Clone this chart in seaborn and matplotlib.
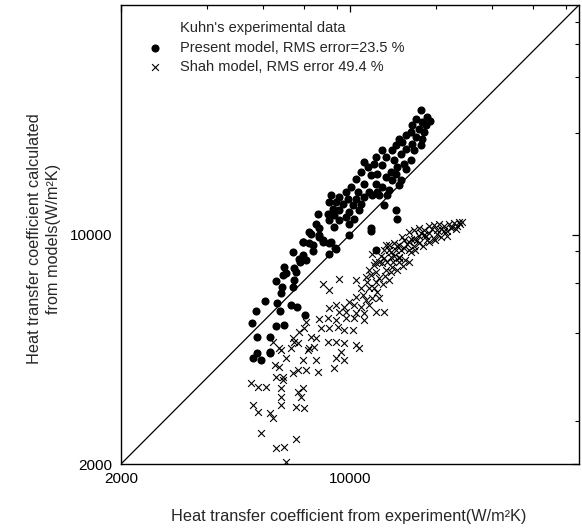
import matplotlib
matplotlib.use("Agg")
import matplotlib.pyplot as plt
import matplotlib.ticker as mticker
import seaborn as sns
import pandas as pd

# Present model: experimental vs calculated heat transfer coefficient (W/m2K)
present_exp = [16440, 17220, 17550, 16630, 15880, 15500, 16250, 17030, 16830, 15330,
               14800, 15880, 16630, 16440, 15500, 14450, 14120, 13800, 14800, 15690,
               13470, 14290, 12560, 12870, 12000, 13640, 15330, 14630, 13960, 14800,
               13320, 12560, 11850, 11310, 11050, 12130, 12870, 13470, 14290, 13800,
               11580, 10800, 10430, 11050, 12000, 12560, 13170, 14120, 10070, 10550,
               11450, 12130, 13010, 9720, 9280, 8750, 9830, 10430, 11050, 11710,
               12280, 9060, 9490, 10180, 10670, 10800, 8650, 8850, 9280, 9950,
               8550, 8960, 9720, 10300, 8650, 9280, 9950, 7970, 8960, 7880,
               8060, 12710, 13800, 13960, 11580, 7520, 8060, 8750, 7170, 7690,
               8250, 6690, 7170, 7350, 7010, 9060, 6310, 6770, 6390, 5030,
               5360, 5040, 5210, 5150, 5510, 5680, 5700, 5950, 6310, 6110,
               5970, 6165, 6210, 5925, 6235, 6850, 7045, 7210, 7520, 7610,
               8060, 8290, 8650, 7730, 8650, 9020, 9900, 11600, 12000, 6610,
               6900, 7310, 6690, 6770, 5200, 5700]
present_calc = [23880, 22790, 22110, 22000, 22540, 21500, 21010, 21500, 20520, 20520,
                20050, 19810, 19590, 18690, 18910, 19130, 19590, 18690, 18260, 18050,
                18050, 17630, 18050, 17220, 17220, 16830, 16830, 16440, 16060, 15880,
                15500, 16250, 16440, 16060, 16630, 15330, 14970, 14630, 14630, 15330,
                15150, 15500, 14800, 14290, 14290, 13960, 13640, 14120, 13960, 13470,
                13470, 13470, 13170, 13470, 13010, 13170, 12870, 12870, 13010, 13170,
                13170, 12560, 12420, 12280, 11850, 12420, 12560, 12000, 11850, 11710,
                11580, 11450, 11310, 11180, 11050, 11050, 10800, 11580, 10550, 10800,
                10430, 12280, 11850, 11130, 10430, 10180, 9950, 9490, 9490, 9280,
                9490, 8850, 8650, 8350, 8450, 9060, 7970, 7880, 7610, 5360,
                4150, 4200, 4880, 5850, 6270, 4870, 4390, 5270, 5300, 5850,
                6180, 6625, 6925, 7210, 7520, 7690, 8250, 9490, 9390, 10070,
                9830, 9610, 9390, 8910, 8750, 9080, 9950, 10250, 8960, 6090,
                6020, 5680, 6900, 7260, 4360, 4360]

# Shah correlation: experimental vs calculated heat transfer coefficient (W/m2K)
shah_exp = [8290, 8650, 9280, 11710, 12870, 13640, 14450, 13800, 13320, 14120,
            12560, 11450, 12000, 12870, 13470, 10430, 11180, 12000, 10800, 11450,
            12130, 10920, 10430, 11180, 11710, 12280, 9950, 10300, 10800, 11450,
            9610, 9060, 8650, 9280, 9720, 10430, 11050, 12710, 12000, 8550,
            8060, 9060, 9720, 10300, 11050, 8160, 8650, 9170, 9610, 10180,
            7350, 7260, 7010, 7610, 7880, 8550, 9060, 9610, 10430, 10670,
            6690, 6930, 6610, 7520, 7785, 6090, 5815, 9385, 9060, 9610,
            6390, 7170, 7880, 6930, 7350, 7970, 5885, 6090, 5950, 6235,
            6690, 8960, 6165, 6770, 7430, 6235, 4995, 5235, 5550, 6165,
            6930, 7170, 7090, 6165, 6165, 6850, 7260, 5055, 5235, 5680,
            5815, 5360, 5950, 6310, 6850, 6390,
            15150, 15690, 16250, 16830, 17430, 18050, 18690, 19360, 20050, 20760,
            21500, 21960, 14630, 15150, 15690, 16250, 16830, 17430, 18470, 19360,
            20330, 21200, 14120, 14630, 15150, 15690, 16250, 17190, 18050, 13170,
            13640, 14120, 12710, 12280, 11850,
            12710, 13170, 13350, 13930, 14320, 14940, 15360, 16020, 16470, 17060,
            17800, 18470, 18950, 19770, 20470, 21050, 21650, 12450, 12990, 13560,
            14120, 14730, 15360, 15800, 16750, 17430, 18170, 18950, 19770, 11930,
            11600, 12280, 12800, 13350, 13930, 14520, 15150, 11300, 11850, 12620,
            13170]
shah_calc = [7090, 6770, 7300, 8750, 9280, 9390, 9830, 8960, 8550, 8550,
             8160, 7790, 7690, 7790, 7970, 7260, 7430, 7170, 6850, 6850,
             6690, 6535, 6460, 6310, 6390, 6390, 6235, 6090, 6020, 6090,
             6020, 6090, 5955, 5815, 5815, 5750, 5750, 5815, 5815, 5550,
             5510, 5485, 5550, 5550, 5485, 5175, 5175, 5240, 5115, 5115,
             5420, 5175, 5050, 4880, 4825, 4710, 4710, 4660, 4605, 4500,
             4825, 4660, 4500, 4500, 4550, 4500, 4710, 4390, 4195, 4145,
             4195, 4145, 4145, 3865, 3865, 3820, 4000, 3955, 3690, 3690,
             3775, 3910, 4445, 4710, 4445, 3600, 3520, 3440, 3440, 3400,
             3320, 3400, 3205, 3205, 3025, 2990, 2955, 3025, 2885, 2855,
             2755, 2480, 2235, 2260, 2375, 2030,
             10160, 10300, 10450, 10300, 10600, 10670, 10745, 10600, 10745, 10820,
             10900, 10900, 9610, 9470, 9720, 9880, 9950, 10090, 10300, 10230,
             10450, 10600, 9280, 9080, 8960, 9210, 9400, 9610, 9720, 8960,
             8590, 8230, 8470, 8230, 8060,
             8960, 9280, 8830, 9210, 8960, 9340, 9720, 9610, 10090, 9880,
             10380, 10018, 10380, 10230, 10520, 10380, 10745, 8590, 8230, 8230,
             8470, 8350, 8830, 8960, 9210, 9470, 9610, 9810, 9880, 8230,
             7520, 7360, 7460, 7670, 7790, 8010, 8230, 7150, 6870, 7060,
             7260]

axis_limits = [2000, 50000]
major_ticks = [2000, 10000]
x_minor_ticks = [3650, 5440, 7250, 9130, 18250, 27200, 36200, 45600]
y_minor_ticks = [2710, 5010, 7110, 8900, 20400, 30200, 38000, 44400]

legend_title = "Kuhn's experimental data"
present_label = "Present model, RMS error=23.5 %"
shah_label = "Shah model, RMS error 49.4 %"

sns.set_theme(style="white")
plt.rcParams["font.family"] = ["Liberation Sans", "DejaVu Sans"]

present_df = pd.DataFrame({"exp": present_exp, "calc": present_calc})
shah_df = pd.DataFrame({"exp": shah_exp, "calc": shah_calc})

fig = plt.figure(figsize=(5.82, 5.29), dpi=100)
ax = fig.add_axes([121 / 582, 65 / 529, 458 / 582, 459 / 529])

sns.scatterplot(data=present_df, x="exp", y="calc", ax=ax, marker="o", s=34,
                color="black", edgecolor="black", linewidth=0, label=present_label,
                zorder=3)
sns.scatterplot(data=shah_df, x="exp", y="calc", ax=ax, marker="x", s=24,
                color="black", linewidth=0.8, label=shah_label, zorder=3)

# perfect-agreement diagonal
ax.plot(axis_limits, axis_limits, color="black", lw=0.9, zorder=2)

ax.set_xscale("log")
ax.set_yscale("log")
ax.set_xlim(axis_limits)
ax.set_ylim(axis_limits)

for axis, minors in ((ax.xaxis, x_minor_ticks), (ax.yaxis, y_minor_ticks)):
    axis.set_major_locator(mticker.FixedLocator(major_ticks))
    axis.set_major_formatter(mticker.FixedFormatter([str(t) for t in major_ticks]))
    axis.set_minor_locator(mticker.FixedLocator(minors))
    axis.set_minor_formatter(mticker.NullFormatter())

ax.tick_params(which="both", direction="in", top=True, right=True,
               colors="black", labelsize=11)
ax.tick_params(which="major", length=5, width=0.9, pad=6)
ax.tick_params(which="minor", length=3, width=0.8)
for sp in ax.spines.values():
    sp.set_color("black")
    sp.set_linewidth(1.0)

ax.set_xlabel("")
ax.set_ylabel("")
fig.text(349 / 582, 1 - 517 / 529, "Heat transfer coefficient from experiment(W/m²K)",
         ha="center", va="center", fontsize=11.7)
fig.text(44 / 582, 1 - 239 / 529,
         "Heat transfer coefficient calculated\nfrom models(W/m²K)",
         ha="center", va="center", rotation=90, fontsize=11.7,
         multialignment="center", linespacing=1.4)

ax.text((180 - 121) / 458, (464 - 28) / 459, legend_title, transform=ax.transAxes,
        ha="left", va="center", fontsize=10.5)
leg = ax.legend(loc="upper left", bbox_to_anchor=(0.045, 0.935), frameon=False,
                fontsize=10.5, handletextpad=1.2, labelspacing=0.35,
                borderaxespad=0, handlelength=1.0)

fig.savefig("out.png", dpi=100, facecolor="white")
